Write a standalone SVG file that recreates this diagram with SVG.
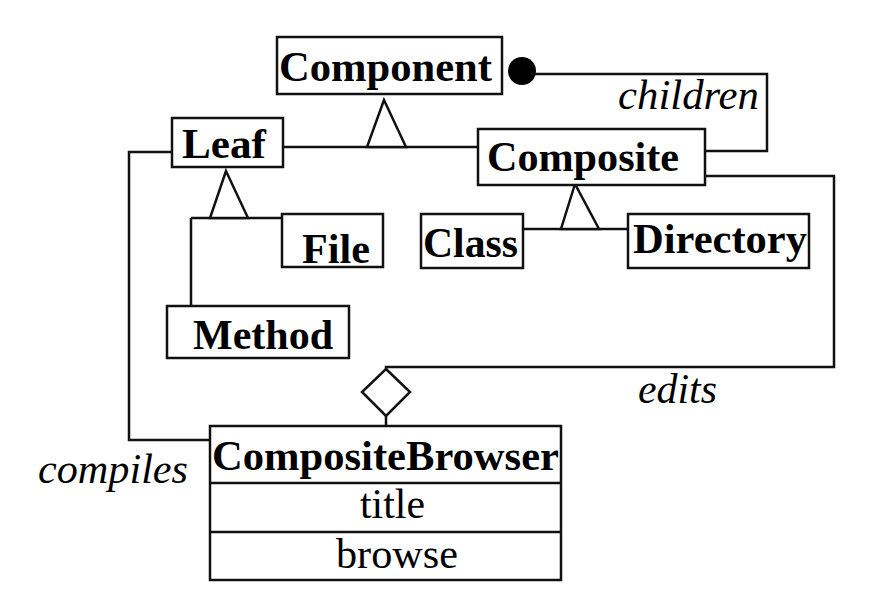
<svg xmlns="http://www.w3.org/2000/svg" width="885" height="615" viewBox="0 0 885 615">
<style>
.box{fill:#fff;stroke:#111;stroke-width:2.5}
.ln{fill:none;stroke:#111;stroke-width:2.5}
.tri{fill:#fff;stroke:#111;stroke-width:2.5;stroke-linejoin:miter}
.b{font-family:"Liberation Serif","Times New Roman",serif;font-weight:bold;font-size:42px;fill:#000}
.r{font-family:"Liberation Serif","Times New Roman",serif;font-size:42px;fill:#000}
.i{font-family:"Liberation Serif","Times New Roman",serif;font-style:italic;font-size:42px;fill:#000}
</style>
<rect width="885" height="615" fill="#fff"/>
<g id="connectors">
<path class="ln" d="M282,147 H478"/>
<polygon class="tri" points="384,100 367,147 406,147"/>
<path class="ln" d="M523,229 H628"/>
<polygon class="tri" points="575,184 561,229 599,229"/>
<path class="ln" d="M191,218 H282 M191,218 V306"/>
<polygon class="tri" points="226,171 210,218 248,218"/>
<circle cx="522" cy="71" r="14" fill="#000"/>
<path class="ln" d="M530,74 H767 V151 H705"/>
<text class="i" x="618" y="109" textLength="141" lengthAdjust="spacingAndGlyphs">children</text>
<path class="ln" d="M705,176 H834 V367 H386 V369"/>
<polygon class="tri" points="386,369 410,392 386,416 362,392"/>
<path class="ln" d="M386,416 V426"/>
<text class="i" x="638" y="403" textLength="79" lengthAdjust="spacingAndGlyphs">edits</text>
<path class="ln" d="M172,152 H129 V440 H210"/>
<text class="i" x="38" y="483" textLength="150" lengthAdjust="spacingAndGlyphs">compiles</text>
</g>
<g id="Component">
<rect class="box" x="277" y="37" width="225" height="57"/>
<text class="b" x="279" y="81" textLength="213" lengthAdjust="spacingAndGlyphs">Component</text>
</g>
<g id="Leaf">
<rect class="box" x="172" y="118" width="111" height="49"/>
<text class="b" x="182" y="158" textLength="84" lengthAdjust="spacingAndGlyphs">Leaf</text>
</g>
<g id="Composite">
<rect class="box" x="478" y="129" width="227" height="56"/>
<text class="b" x="487" y="171" textLength="192" lengthAdjust="spacingAndGlyphs">Composite</text>
</g>
<g id="File">
<rect class="box" x="282" y="214" width="101" height="53"/>
<text class="b" x="302" y="263" textLength="68" lengthAdjust="spacingAndGlyphs">File</text>
</g>
<g id="Class">
<rect class="box" x="421" y="214" width="102" height="54"/>
<text class="b" x="423" y="257" textLength="95" lengthAdjust="spacingAndGlyphs">Class</text>
</g>
<g id="Directory">
<rect class="box" x="628" y="214" width="181" height="54"/>
<text class="b" x="633" y="253" textLength="174" lengthAdjust="spacingAndGlyphs">Directory</text>
</g>
<g id="Method">
<rect class="box" x="167" y="306" width="182" height="52"/>
<text class="b" x="193" y="349" textLength="140" lengthAdjust="spacingAndGlyphs">Method</text>
</g>
<g id="CompositeBrowser">
<rect class="box" x="210" y="426" width="351" height="154"/>
<path class="ln" d="M210,483 H561 M210,532 H561"/>
<text class="b" x="212" y="470" textLength="347" lengthAdjust="spacingAndGlyphs">CompositeBrowser</text>
<text class="r" x="360" y="518" textLength="65" lengthAdjust="spacingAndGlyphs">title</text>
<text class="r" x="336" y="568" textLength="122" lengthAdjust="spacingAndGlyphs">browse</text>
</g>
</svg>
